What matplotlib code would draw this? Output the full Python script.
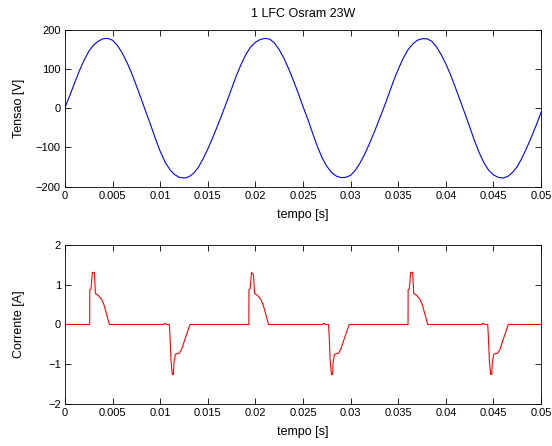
import numpy as np
import matplotlib
matplotlib.use("Agg")
import matplotlib.pyplot as plt

# tension samples, every 0.5 ms from 0 to 50 ms
t_v = np.linspace(0, 0.05, 101)
tensao = [
    2, 32, 64, 95, 122, 145, 161, 171, 177, 178,
    173, 160, 141, 117, 89, 57, 24, -10, -43, -78,
    -110, -137, -156, -169, -176, -178, -175, -166, -151, -129,
    -104, -76, -46, -15, 17, 50, 83, 112, 137, 156,
    168, 175, 178, 176, 166, 149, 127, 100, 70, 38,
    4, -28, -63, -97, -126, -148, -164, -173, -177, -176,
    -171, -158, -139, -116, -89, -60, -29, 2, 35, 69,
    99, 126, 148, 163, 173, 177, 177, 171, 157, 137,
    113, 85, 53, 20, -13, -47, -82, -113, -139, -158,
    -170, -176, -178, -174, -164, -149, -127, -101, -73, -43,
    -11,
]

# corrente breakpoints (s, A)
t_i = [
    0.0,
    0.00259, 0.00260, 0.00273, 0.00287, 0.00308, 0.00319, 0.00350, 0.00385, 0.00410, 0.00466,
    0.01033, 0.01047, 0.01068, 0.01096, 0.01103, 0.01113, 0.01127, 0.01138, 0.01145, 0.01159,
    0.01201, 0.01226, 0.01261, 0.01313,
    0.01931, 0.01932, 0.01945, 0.01959, 0.01980, 0.01991, 0.02022, 0.02057, 0.02082, 0.02138,
    0.02705, 0.02719, 0.02740, 0.02768, 0.02775, 0.02785, 0.02799, 0.02810, 0.02817, 0.02831,
    0.02873, 0.02898, 0.02933, 0.02985,
    0.03603, 0.03604, 0.03617, 0.03631, 0.03652, 0.03663, 0.03694, 0.03729, 0.03754, 0.03810,
    0.04377, 0.04391, 0.04412, 0.04440, 0.04447, 0.04457, 0.04471, 0.04482, 0.04489, 0.04503,
    0.04545, 0.04570, 0.04605, 0.04657,
    0.05,
]
corrente = [
    0,
    0, 0.88, 0.90, 1.31, 1.31, 0.78, 0.73, 0.63, 0.49, 0,
    0, 0.03, 0, 0, -0.30, -0.90, -1.26, -1.26, -0.95, -0.75,
    -0.72, -0.62, -0.36, 0,
    0, 0.88, 0.90, 1.31, 1.25, 0.78, 0.73, 0.63, 0.49, 0,
    0, 0.03, 0, 0, -0.30, -0.90, -1.26, -1.26, -0.95, -0.75,
    -0.72, -0.62, -0.36, 0,
    0, 0.88, 0.90, 1.31, 1.31, 0.78, 0.73, 0.63, 0.49, 0,
    0, 0.03, 0, 0, -0.30, -0.90, -1.26, -1.26, -0.95, -0.75,
    -0.72, -0.62, -0.36, 0,
    0,
]

x_ticks = [0, 0.005, 0.01, 0.015, 0.02, 0.025, 0.03, 0.035, 0.04, 0.045, 0.05]
x_labels = ["0", "0.005", "0.01", "0.015", "0.02", "0.025", "0.03", "0.035", "0.04", "0.045", "0.05"]

plt.rcParams["font.family"] = ["Liberation Sans", "DejaVu Sans"]
plt.rcParams["font.size"] = 8

fig = plt.figure(figsize=(5.52, 4.46), dpi=100)
ax1 = fig.add_axes([0.1178, 0.5814, 0.8623, 0.352])
ax2 = fig.add_axes([0.1178, 0.0942, 0.8623, 0.3565])

ax1.plot(t_v, tensao, color="blue", lw=0.8)
ax1.set_xlim(0, 0.05)
ax1.set_ylim(-200, 200)
ax1.set_yticks([-200, -100, 0, 100, 200])
ax1.set_title("1 LFC Osram 23W", fontsize=9, pad=9)
ax1.set_xlabel("tempo [s]", fontsize=9, labelpad=6)
ax1.set_ylabel("Tensao [V]", fontsize=9)

ax2.plot(t_i, corrente, color="red", lw=0.8)
ax2.set_xlim(0, 0.05)
ax2.set_ylim(-2, 2)
ax2.set_yticks([-2, -1, 0, 1, 2])
ax2.set_xlabel("tempo [s]", fontsize=9, labelpad=6)
ax2.set_ylabel("Corrente [A]", fontsize=9)

for ax in (ax1, ax2):
    ax.set_xticks(x_ticks)
    ax.set_xticklabels(x_labels)
    ax.tick_params(direction="in", top=True, right=True, length=4, width=0.6, pad=3)
    ax.yaxis.set_label_coords(-0.084, 0.5)
    for s in ax.spines.values():
        s.set_linewidth(0.6)

fig.savefig("out.png", dpi=100)
